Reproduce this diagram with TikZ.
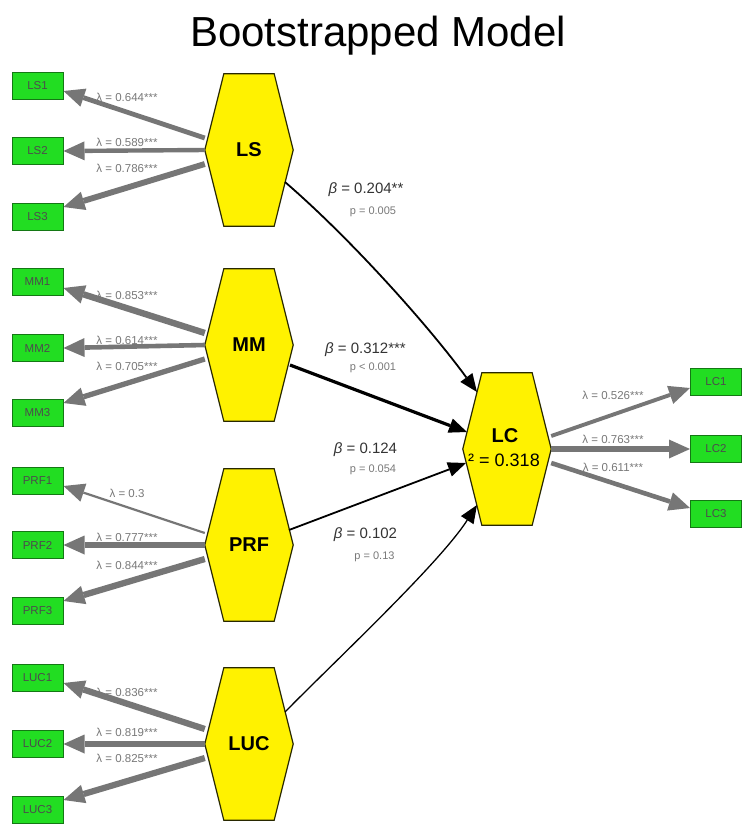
\documentclass[tikz,border=0pt]{standalone}
\usepackage{fontspec}
\setmainfont{Liberation Sans}
\usetikzlibrary{arrows.meta,calc,backgrounds}
\definecolor{hexfill}{RGB}{255,242,0}
\definecolor{hexline}{RGB}{40,40,0}
\definecolor{boxfill}{RGB}{34,221,34}
\definecolor{boxline}{RGB}{20,120,20}
\definecolor{loadgray}{RGB}{118,118,118}
\definecolor{lblgray}{RGB}{120,120,120}
\tikzset{
  hexnode/.style={minimum width=88pt, minimum height=152pt, inner sep=0pt, font=\fontsize{20}{22}\selectfont\bfseries},
  hexshape/.style={fill=hexfill, draw=hexline, line width=1.2pt, line join=miter},
  ind/.style={draw=boxline, fill=boxfill, line width=1pt, minimum width=51pt, minimum height=27pt, inner sep=0pt, font=\fontsize{11.5}{12}\selectfont, text=black!70},
  load/.style={draw=loadgray, -{Triangle[length=21pt 0 0,width=19pt 0 0,line width=0pt]}},
  lam/.style={text=lblgray, font=\fontsize{11.5}{12}\selectfont, inner sep=0pt},
  struct/.style={draw=black, -{Triangle[length=18pt 0 0,width=15pt 0 0,line width=0pt]}},
  betalbl/.style={text=black!80, font=\fontsize{15}{16}\selectfont, inner sep=0pt},
  plbl/.style={text=lblgray, font=\fontsize{11}{12}\selectfont, inner sep=0pt},
}
\newcommand\hexpath[1]{\path[hexshape] (#1.west) -- ([xshift=19pt]#1.north west) -- ([xshift=-19pt]#1.north east) -- (#1.east) -- ([xshift=-19pt]#1.south east) -- ([xshift=19pt]#1.south west) -- cycle;}
\begin{document}
\begin{tikzpicture}[x=1pt,y=-1pt]
\useasboundingbox (0,0) rectangle (745,831);
\node[anchor=base, font=\fontsize{42}{44}\selectfont] (title) at (378,46) {Bootstrapped Model};

% latent constructs
\node[hexnode] (LS) at (249,150) {LS};
\node[hexnode] (MM) at (249,345) {MM};
\node[hexnode] (PRF) at (249,545) {PRF};
\node[hexnode] (LUC) at (249,744) {LUC};
\node[hexnode] (LC) at (507,449) {};
\node[font=\fontsize{20}{22}\selectfont\bfseries, inner sep=0pt] (LCt) at (505,436) {LC};
\node[font=\fontsize{18}{20}\selectfont, inner sep=0pt] (LCr) at (504,460) {² = 0.318};
\begin{scope}[on background layer]
\hexpath{LS}\hexpath{MM}\hexpath{PRF}\hexpath{LUC}\hexpath{LC}
\end{scope}

% indicators
\node[ind] (LS1) at (37.5,86) {LS1};
\node[ind] (LS2) at (37.5,151) {LS2};
\node[ind] (LS3) at (37.5,217) {LS3};
\node[ind] (MM1) at (37.5,282) {MM1};
\node[ind] (MM2) at (37.5,348) {MM2};
\node[ind] (MM3) at (37.5,413) {MM3};
\node[ind] (PRF1) at (37.5,481) {PRF1};
\node[ind] (PRF2) at (37.5,545) {PRF2};
\node[ind] (PRF3) at (37.5,611) {PRF3};
\node[ind] (LUC1) at (37.5,678) {LUC1};
\node[ind] (LUC2) at (37.5,744) {LUC2};
\node[ind] (LUC3) at (37.5,810) {LUC3};
\node[ind] (LC1) at (716,382) {LC1};
\node[ind] (LC2) at (716,449) {LC2};
\node[ind] (LC3) at (716,514) {LC3};

% loadings
\draw[load, line width=4.8pt] ([yshift=12pt]LS.west) -- ([yshift=-5pt]LS1.east);
\draw[load, line width=4.4pt] (LS.west) -- (LS2.east);
\draw[load, line width=5.9pt] ([yshift=-14pt]LS.west) -- ([yshift=10pt]LS3.east);
\draw[load, line width=6.4pt] ([yshift=12pt]MM.west) -- ([yshift=-6pt]MM1.east);
\draw[load, line width=4.6pt] (MM.west) -- (MM2.east);
\draw[load, line width=5.3pt] ([yshift=-14pt]MM.west) -- ([yshift=10pt]MM3.east);
\draw[load, line width=2.2pt] ([yshift=12pt]PRF.west) -- ([yshift=-5pt]PRF1.east);
\draw[load, line width=5.8pt] (PRF.west) -- (PRF2.east);
\draw[load, line width=6.3pt] ([yshift=-14pt]PRF.west) -- ([yshift=10pt]PRF3.east);
\draw[load, line width=6.3pt] ([yshift=15pt]LUC.west) -- ([yshift=-5pt]LUC1.east);
\draw[load, line width=6.1pt] (LUC.west) -- (LUC2.east);
\draw[load, line width=6.2pt] ([yshift=-14pt]LUC.west) -- ([yshift=10pt]LUC3.east);
\draw[load, line width=3.9pt] ([yshift=13pt]LC.east) -- ([yshift=-6pt]LC1.west);
\draw[load, line width=5.7pt] (LC.east) -- (LC2.west);
\draw[load, line width=4.6pt] ([yshift=-14pt]LC.east) -- ([yshift=6pt]LC3.west);

% loading labels
\node[lam] (lLS1) at (127,97) {λ = 0.644***};
\node[lam] (lLS2) at (127,142) {λ = 0.589***};
\node[lam] (lLS3) at (127,168) {λ = 0.786***};
\node[lam] (lMM1) at (127,295) {λ = 0.853***};
\node[lam] (lMM2) at (127,340) {λ = 0.614***};
\node[lam] (lMM3) at (127,366) {λ = 0.705***};
\node[lam] (lPRF1) at (127,493) {λ = 0.3};
\node[lam] (lPRF2) at (127,537) {λ = 0.777***};
\node[lam] (lPRF3) at (127,565) {λ = 0.844***};
\node[lam] (lLUC1) at (127,692) {λ = 0.836***};
\node[lam] (lLUC2) at (127,732) {λ = 0.819***};
\node[lam] (lLUC3) at (127,758) {λ = 0.825***};
\node[lam] (lLC1) at (613,395) {λ = 0.526***};
\node[lam] (lLC2) at (613,439) {λ = 0.763***};
\node[lam] (lLC3) at (613,467) {λ = 0.611***};

% structural paths
\draw[struct, line width=1.8pt] ($(LS.center)+(36,32)$) .. controls (350,238) and (428,325) .. ($(LC.center)+(-30,-57)$);
\draw[struct, line width=3.2pt] ($(MM.center)+(41,20)$) -- ($(LC.center)+(-40,-17)$);
\draw[struct, line width=1.8pt] ($(PRF.center)+(40,-15)$) -- ($(LC.center)+(-41,14)$);
\draw[struct, line width=1.3pt] ($(LUC.center)+(36,-32)$) .. controls (334,662) and (439,564) .. ($(LC.center)+(-30,56)$);

% path labels
\node[betalbl] (bLS) at (366,190) {{\itshape β} = 0.204**};
\node[plbl] (pLS) at (373,212) {p = 0.005};
\node[betalbl] (bMM) at (365.5,350) {{\itshape β} = 0.312***};
\node[plbl] (pMM) at (373,368) {p < 0.001};
\node[betalbl] (bPRF) at (365.5,450) {{\itshape β} = 0.124};
\node[plbl] (pPRF) at (373,470) {p = 0.054};
\node[betalbl] (bLUC) at (365.5,535) {{\itshape β} = 0.102};
\node[plbl] (pLUC) at (374.5,557) {p = 0.13};
\end{tikzpicture}
\end{document}
